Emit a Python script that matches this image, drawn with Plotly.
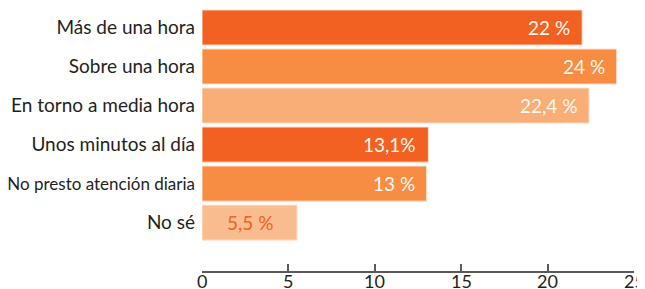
import plotly.graph_objects as go

categories = ["Más de una hora", "Sobre una hora", "En torno a media hora",
              "Unos minutos al día", "No presto atención diaria", "No sé"]
category_sizes = [19, 19, 19, 19, 17, 19]
values = [22, 24, 22.4, 13.1, 13, 5.5]
value_labels = ["22 %", "24 %", "22,4 %", "13,1%", "13 %", "5,5 %"]
bar_colors = ["#F26122", "#F68D43", "#F9AE78", "#F26122", "#F68D43", "#F9BC8F"]
label_colors = ["#FFF8EE", "#FFF8EE", "#FFF8EE", "#FFF8EE", "#FFF8EE", "#F26122"]
tick_vals = [0, 5, 10, 15, 20, 25]

FONT = "Lato"

fig = go.Figure()
fig.add_trace(go.Bar(
    x=values, y=categories, orientation="h",
    marker=dict(color=bar_colors, line=dict(color="#FDE3D0", width=1)),
    width=0.9, hoverinfo="skip",
))

for cat, v, lab, col in zip(categories, values, value_labels, label_colors):
    if col == "#F26122":
        fig.add_annotation(x=v / 2, y=cat, text=lab, showarrow=False,
                           xanchor="center", font=dict(family=FONT, size=19, color=col))
    else:
        fig.add_annotation(x=v, y=cat, text=lab, showarrow=False, xanchor="right",
                           xshift=-10, font=dict(family=FONT, size=19, color=col))

# x tick labels (placed just under the axis line, partly cut by the page edge like the original)
for t in tick_vals:
    fig.add_annotation(x=t, y=0, xref="x", yref="paper", text=str(t), showarrow=False,
                       xanchor="center", yanchor="top", yshift=2, borderpad=0,
                       font=dict(family=FONT, size=18, color="#231F20"))

# page body has an 8px margin: the figure is sized/offset to fit the 645x289 window
fig.update_layout(
    width=637, height=281,
    margin=dict(l=194, r=11, t=0, b=18),
    paper_bgcolor="white", plot_bgcolor="white",
    showlegend=False,
    font=dict(family=FONT, color="#231F20"),
)
fig.update_xaxes(
    range=[0, 25], tickvals=tick_vals, showticklabels=False,
    showgrid=False, zeroline=False, showline=True, linecolor="#5A5A5A", linewidth=1.5,
    ticks="inside", ticklen=7, tickwidth=1.5, tickcolor="#5A5A5A",
    automargin=False,
)
fig.update_yaxes(
    range=[6.24, -0.5], showgrid=False, zeroline=False, showline=False,
    tickvals=categories,
    ticktext=[f'<span style="font-size:{s}px">{c}</span>' for c, s in zip(categories, category_sizes)],
    ticks="", ticklabelstandoff=6, automargin=False,
    tickfont=dict(family=FONT, size=19, color="#231F20"),
)

fig.write_html("out.html",
               post_script="document.documentElement.style.overflow='hidden';"
                           "document.body.style.overflow='hidden';")
